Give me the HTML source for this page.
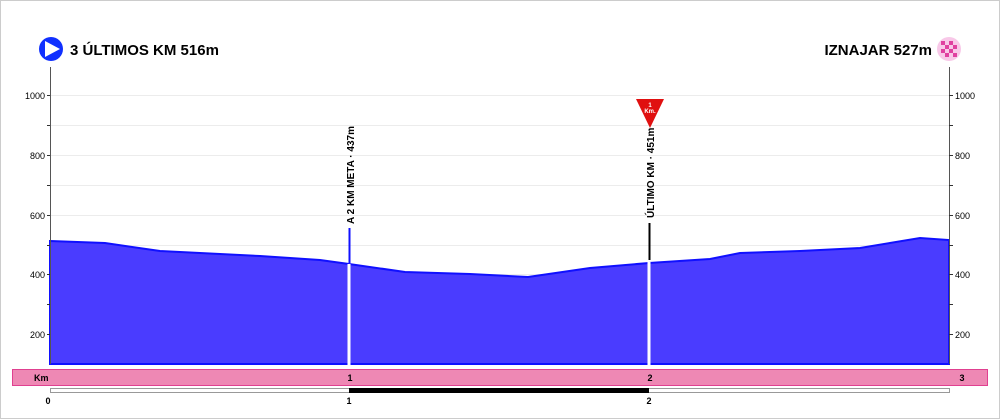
<!DOCTYPE html>
<html><head><meta charset="utf-8"><style>
body{margin:0;background:#fff}
svg{display:block;font-family:"Liberation Sans",Arial,sans-serif}
</style></head><body>
<svg width="1000" height="419" viewBox="0 0 1000 419">
<rect x="0.5" y="0.5" width="999" height="418" fill="#fff" stroke="#ccc"/>
<g stroke="#ececec" stroke-width="1">
<line x1="50" x2="949" y1="95.5" y2="95.5"/><line x1="50" x2="949" y1="125.5" y2="125.5"/>
<line x1="50" x2="949" y1="155.5" y2="155.5"/><line x1="50" x2="949" y1="185.5" y2="185.5"/>
<line x1="50" x2="949" y1="215.5" y2="215.5"/><line x1="50" x2="949" y1="245.5" y2="245.5"/>
<line x1="50" x2="949" y1="274.5" y2="274.5"/><line x1="50" x2="949" y1="304.5" y2="304.5"/>
<line x1="50" x2="949" y1="334.5" y2="334.5"/>
</g>
<path d="M50,241 L105,243 L160,251 L260,256 L320,260 L349,264 L405,272 L470,274 L528,277 L590,268 L649,263 L710,259 L740,253 L800,251 L860,248 L920,238 L949,240 L949,364 L50,364 Z" fill="#4a3cff" stroke="#1010ff" stroke-width="2"/>
<line x1="349" x2="349" y1="264" y2="365" stroke="#fff" stroke-width="3"/>
<line x1="649" x2="649" y1="262" y2="365" stroke="#fff" stroke-width="3"/>
<line x1="349.5" x2="349.5" y1="228" y2="263" stroke="#1010ff" stroke-width="2"/>
<line x1="649.5" x2="649.5" y1="223" y2="260" stroke="#000" stroke-width="2"/>
<g stroke="#555" stroke-width="1">
<line x1="50.5" x2="50.5" y1="67" y2="364"/><line x1="949.5" x2="949.5" y1="67" y2="364"/>
</g>
<g stroke="#333"><path d="M47,95.5h3M47,125.5h3M47,155.5h3M47,185.5h3M47,215.5h3M47,245.5h3M47,274.5h3M47,304.5h3M47,334.5h3M949,95.5h4M949,125.5h4M949,155.5h4M949,185.5h4M949,215.5h4M949,245.5h4M949,274.5h4M949,304.5h4M949,334.5h4"/></g>
<g font-size="9" fill="#000">
<g text-anchor="end"><text x="45" y="99">1000</text><text x="45" y="159">800</text><text x="45" y="219">600</text><text x="45" y="278">400</text><text x="45" y="338">200</text></g>
<text x="955" y="99">1000</text><text x="955" y="159">800</text><text x="955" y="219">600</text><text x="955" y="278">400</text><text x="955" y="338">200</text>
</g>
<text transform="translate(354,224) rotate(-90)" font-size="10" font-weight="bold">A 2 KM META · 437m</text>
<text transform="translate(654,218) rotate(-90)" font-size="10" font-weight="bold">ÚLTIMO KM · 451m</text>
<path d="M636,99 L664,99 L650,128 Z" fill="#e01010"/>
<text x="650" y="107" font-size="6" fill="#fff" text-anchor="middle" font-weight="bold">1</text>
<text x="650" y="113" font-size="6" fill="#fff" text-anchor="middle" font-weight="bold">Km.</text>
<circle cx="51" cy="49" r="12" fill="#1030ff"/>
<path d="M45,41 L60,49 L45,57 Z" fill="#fff"/>
<text x="70" y="55" font-size="15" font-weight="bold">3 ÚLTIMOS KM  516m</text>
<text x="932" y="55" font-size="15" font-weight="bold" text-anchor="end">IZNAJAR 527m</text>
<circle cx="949" cy="49" r="12" fill="#f8c8e8"/>
<g fill="#e040a0">
<rect x="941" y="41" width="4" height="4"/><rect x="949" y="41" width="4" height="4"/>
<rect x="945" y="45" width="4" height="4"/><rect x="953" y="45" width="4" height="4"/>
<rect x="941" y="49" width="4" height="4"/><rect x="949" y="49" width="4" height="4"/>
<rect x="945" y="53" width="4" height="4"/><rect x="953" y="53" width="4" height="4"/>
</g>
<rect x="12.5" y="369.5" width="975" height="16" fill="#ee88b4" stroke="#e04090"/>
<g font-size="9" font-weight="bold"><text x="34" y="381">Km</text><text x="350" y="381" text-anchor="middle">1</text><text x="650" y="381" text-anchor="middle">2</text><text x="962" y="381" text-anchor="middle">3</text></g>
<rect x="50.5" y="388.5" width="899" height="4" fill="#fff" stroke="#999"/>
<rect x="349" y="388" width="300" height="5" fill="#000"/>
<g font-size="9" font-weight="bold" text-anchor="middle"><text x="48" y="404">0</text><text x="349" y="404">1</text><text x="649" y="404">2</text></g>
</svg>
</body></html>
